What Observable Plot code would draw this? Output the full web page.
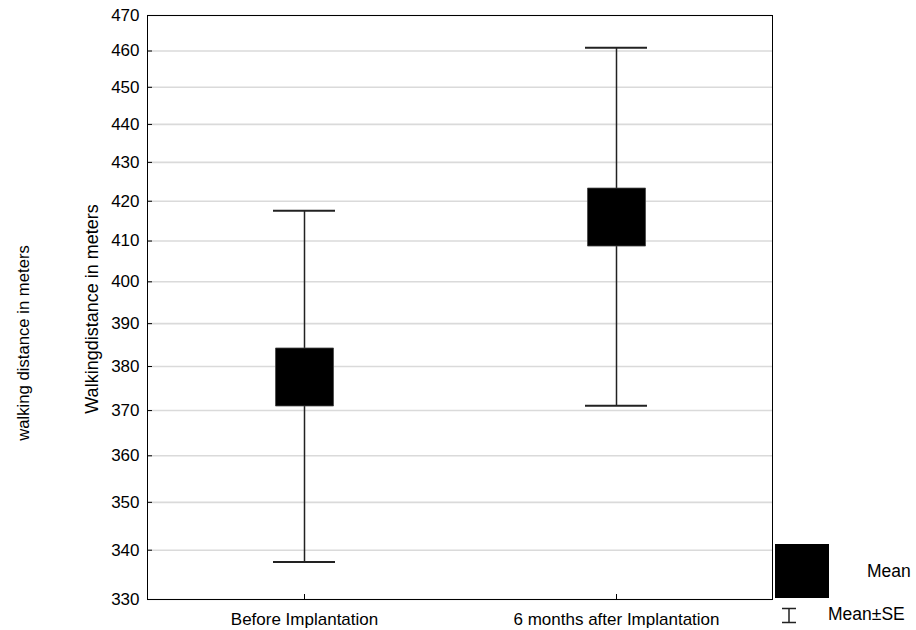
<!DOCTYPE html>
<html><head><meta charset="utf-8">
<script src="https://cdn.jsdelivr.net/npm/d3@7"></script>
<script src="https://cdn.jsdelivr.net/npm/@observablehq/plot@0.6"></script>
<style>
body{margin:0;background:#fff;font-family:"Liberation Sans",Arial,sans-serif}
#wrap{position:relative;width:916px;height:630px}
#wrap > svg{display:block}
</style>
</head><body><div id="wrap"></div>
<script>
const groups = ["Before Implantation", "6 months after Implantation"];
const means = [377.6, 416.0];
const seValues = [40.0, 44.9];
const yTicks = [330, 340, 350, 360, 370, 380, 390, 400, 410, 420, 430, 440, 450, 460, 470];
const legendLabels = ["Mean", "Mean±SE"];

const data = groups.map((g, i) => ({group: g, mean: means[i], lo: means[i] - seValues[i], hi: means[i] + seValues[i]}));

const chart = Plot.plot({
  width: 916, height: 630,
  marginLeft: 147, marginRight: 144, marginTop: 15, marginBottom: 31,
  style: {fontFamily: '"Liberation Sans", Arial, sans-serif', fontSize: "17px", color: "#000", background: "#fff", overflow: "visible"},
  x: {type: "band", domain: groups, padding: 0, label: null},
  y: {type: "log", domain: [330, 470], ticks: yTicks, label: null},
  marks: [
    Plot.gridY(yTicks, {stroke: "#dadada", strokeOpacity: 1, strokeWidth: 1.6}),
    Plot.frame({stroke: "#000", strokeWidth: 1}),
    Plot.axisY(yTicks, {tickSize: -5, tickPadding: 13, tickFormat: d => d, label: null, stroke: "#000", fontSize: 17}),
    Plot.axisX({tickSize: -5, tickPadding: 18, label: null, stroke: "#000", fontSize: 17}),
    Plot.ruleX(data, {x: "group", y1: "lo", y2: "hi", stroke: "#222", strokeWidth: 1.5}),
    Plot.tickY(data, {x: "group", y: "hi", insetLeft: 125, insetRight: 125, stroke: "#222", strokeWidth: 2}),
    Plot.tickY(data, {x: "group", y: "lo", insetLeft: 125, insetRight: 125, stroke: "#222", strokeWidth: 2}),
    Plot.dot(data, {x: "group", y: "mean", symbol: "square", r: 32.7, fill: "#000", stroke: "#444", strokeWidth: 0.8}),
    Plot.text(["Walkingdistance in meters"], {frameAnchor: "left", textAnchor: "middle", dx: -55, dy: 1.5, rotate: -90, fontSize: 18, fill: "#000"}),
    Plot.text(["walking distance in meters"], {frameAnchor: "left", textAnchor: "middle", dx: -124, dy: 35.5, rotate: -90, fontSize: 16.7, fill: "#000"})
  ]
});
const wrap = document.getElementById("wrap");
wrap.appendChild(chart);

// Legend overlay
const ns = "http://www.w3.org/2000/svg";
const leg = document.createElementNS(ns, "svg");
leg.setAttribute("width", 916); leg.setAttribute("height", 630);
leg.style.cssText = "position:absolute;left:0;top:0;pointer-events:none;";
leg.innerHTML =
  '<rect x="775" y="544" width="54" height="54" fill="#000"/>' +
  '<path d="M782,608.5H796M789,608.5V622.5M782,622.5H796" stroke="#222" stroke-width="1.5" fill="none"/>' +
  '<text x="867" y="577" font-size="17.5" font-family="Liberation Sans, Arial, sans-serif" fill="#000">' + legendLabels[0] + '</text>' +
  '<text x="828" y="620" font-size="17.5" font-family="Liberation Sans, Arial, sans-serif" fill="#000">' + legendLabels[1] + '</text>';
wrap.appendChild(leg);
</script>
</body></html>
